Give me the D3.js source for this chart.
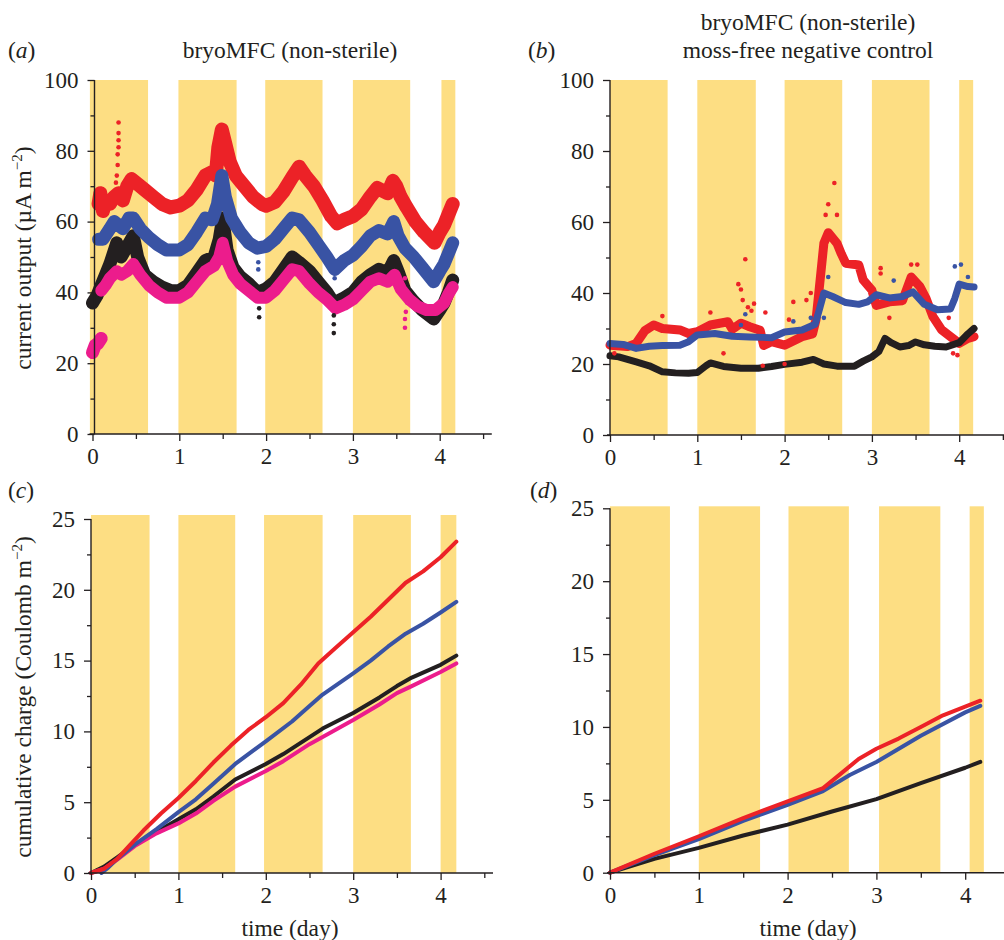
<!DOCTYPE html>
<html><head><meta charset="utf-8">
<script src="https://cdn.jsdelivr.net/npm/d3@7"></script>
<style>
body{margin:0;background:#fff}
text{font-family:"Liberation Serif","Times New Roman",serif;fill:#231f20}
</style>
</head><body>
<svg id="chart" width="1004" height="940"></svg>
<script>
// ---------- DATA ----------
// light periods (days) per panel
const lightA = [[-0.03,0.64],[0.99,1.66],[1.99,2.65],[3.0,3.66],[4.02,4.18]];
const lightB = [[0,0.66],[1,1.67],[2,2.66],[3,3.66],[4,4.16]];
const lightC = [[0,0.67],[1.0,1.65],[1.98,2.65],[3.0,3.66],[4.0,4.18]];
const lightD = [[0,0.675],[1,1.69],[2.01,2.69],[3.03,3.72],[4.05,4.21]];

const currentTicks = [0,20,40,60,80,100];
const chargeTicks = [0,5,10,15,20,25];
const dayTicks = [0,1,2,3,4];

// (a) current output, bryoMFC non-sterile  [day, µA m-2]
const aRed = [[0.07,65],[0.09,68],[0.12,63],[0.15,66],[0.2,65],[0.25,67],[0.3,68],[0.35,66],[0.4,70],[0.45,72],[0.5,71],[0.6,69],[0.7,67],[0.8,65],[0.9,64],[1.0,64.5],[1.1,66],[1.2,69],[1.3,73],[1.38,74],[1.42,73],[1.45,81],[1.49,86],[1.53,82],[1.58,77],[1.65,73],[1.75,70],[1.85,67],[1.95,65],[2.0,64.5],[2.1,65.5],[2.2,68.5],[2.3,72.5],[2.38,75.5],[2.45,73],[2.55,70],[2.65,66],[2.75,61.5],[2.82,59.5],[2.9,60.5],[3.0,61.5],[3.1,63.5],[3.2,67],[3.28,69.5],[3.4,68],[3.46,71.5],[3.5,70],[3.55,67],[3.62,64],[3.72,60],[3.82,57],[3.94,54],[4.0,57],[4.05,59],[4.1,62],[4.15,65]];
const aBlue = [[0.07,55],[0.12,55],[0.2,58],[0.25,60],[0.3,59],[0.35,58],[0.42,61],[0.47,61],[0.55,58],[0.65,55.5],[0.75,53.5],[0.85,52],[1.0,52],[1.1,53.5],[1.2,57],[1.3,61],[1.38,60.5],[1.44,65],[1.49,73],[1.53,67],[1.6,61],[1.7,57],[1.8,54],[1.9,52.5],[2.0,53],[2.1,55],[2.2,58],[2.3,61],[2.38,60.5],[2.5,57],[2.6,53.5],[2.7,50],[2.79,46.5],[2.9,49],[3.0,50.5],[3.1,53],[3.2,56],[3.3,57.5],[3.4,56.5],[3.47,60],[3.52,56],[3.6,52.5],[3.7,50],[3.8,47],[3.93,43],[4.0,46],[4.05,48],[4.1,51],[4.15,54]];
const aBlack = [[0.0,37],[0.05,39],[0.1,42],[0.15,45],[0.2,48],[0.28,54],[0.33,50],[0.4,53],[0.47,56],[0.52,50],[0.6,45],[0.7,43],[0.8,41.5],[0.9,40.5],[1.0,40.5],[1.1,42],[1.2,45.5],[1.3,49],[1.4,50],[1.46,55],[1.5,61],[1.55,52],[1.62,47],[1.7,44.5],[1.8,42.5],[1.9,40],[2.0,41],[2.1,43],[2.2,46.5],[2.3,50],[2.38,48.5],[2.5,46],[2.6,43],[2.7,40],[2.78,37],[2.9,38.5],[3.0,40],[3.1,43],[3.2,45],[3.3,46.5],[3.4,45.5],[3.47,49],[3.52,46],[3.6,40.5],[3.7,37.5],[3.8,35],[3.93,32.5],[4.0,35],[4.05,37],[4.1,40],[4.15,43.5]];
const aPink = [[0.1,40.5],[0.15,42],[0.2,44],[0.28,46],[0.33,45],[0.4,46],[0.47,48],[0.55,45],[0.65,42],[0.75,40],[0.85,38.5],[1.0,38.5],[1.1,40],[1.2,43],[1.3,46],[1.4,47.5],[1.46,50],[1.5,54],[1.55,49],[1.62,45],[1.7,42.5],[1.8,40.5],[1.9,38.5],[2.0,38.5],[2.1,40.5],[2.2,43.5],[2.3,46.5],[2.38,46],[2.5,42.5],[2.6,40],[2.7,38],[2.8,35.5],[2.9,36.5],[3.0,38],[3.1,40.5],[3.2,43],[3.3,44],[3.4,43],[3.48,45],[3.55,41],[3.65,38],[3.75,36],[3.85,35],[3.95,35],[4.05,37],[4.1,39.5],[4.15,41.5]];
const aPinkStart = [[0.0,23],[0.03,25],[0.06,25.5],[0.1,27]];
const aRedDots = [[0.27,71],[0.28,73],[0.29,76],[0.29,79],[0.3,81],[0.3,83],[0.3,85],[0.3,88],[1.44,84],[1.46,86]];
const aBlueDots = [[1.91,46.5],[1.91,48.5],[2.79,44]];
const aBlackDots = [[1.92,33],[1.92,35.5],[2.78,28.5],[2.78,31],[2.78,33.5]];
const aPinkDots = [[3.6,30],[3.6,32.5],[3.61,34.5],[3.63,37],[3.58,42],[3.6,44]];

// (b) current output, moss-free negative control
const bRed = [[0,25.3],[0.2,24.9],[0.3,25.8],[0.4,29.4],[0.5,31],[0.6,30],[0.8,29.6],[0.9,28.6],[1.0,29.1],[1.15,31],[1.35,31.9],[1.4,29.8],[1.5,31.5],[1.6,30.5],[1.72,29.5],[1.76,25.2],[1.85,26.3],[2.0,25.3],[2.2,27.7],[2.32,28.5],[2.36,32.5],[2.4,42],[2.45,54],[2.5,57],[2.6,54],[2.65,51],[2.7,48.4],[2.85,47.9],[2.9,43.7],[3.0,40.8],[3.05,36.5],[3.2,37.5],[3.35,37.8],[3.45,44.5],[3.55,41.8],[3.62,38.5],[3.7,33.3],[3.8,29.6],[3.9,27.7],[4.0,25.8],[4.1,27.2],[4.17,27.7]];
const bBlue = [[0,25.8],[0.15,25.5],[0.3,24.4],[0.45,25],[0.6,25.2],[0.8,25.3],[0.9,26.3],[1.0,28.2],[1.2,28.6],[1.4,27.8],[1.6,27.6],[1.75,27.5],[1.85,27.4],[2.0,29],[2.2,29.6],[2.35,31.2],[2.4,35.5],[2.45,40],[2.55,39],[2.7,37.3],[2.85,36.8],[2.95,37.5],[3.05,39.5],[3.2,38.6],[3.35,39],[3.47,40.3],[3.6,36.8],[3.75,35.3],[3.9,35.5],[3.95,38.5],[4.0,42.5],[4.1,41.8],[4.17,41.7]];
const bBlack = [[0,22.3],[0.1,22],[0.3,20.6],[0.45,19.5],[0.6,17.8],[0.75,17.5],[0.9,17.4],[1.0,17.6],[1.1,19.5],[1.15,20.3],[1.3,19.3],[1.5,18.8],[1.7,18.8],[1.85,19.3],[2.0,19.9],[2.2,20.5],[2.33,21.3],[2.45,20],[2.6,19.4],[2.8,19.4],[2.9,20.8],[3.0,22],[3.08,23.5],[3.15,27.2],[3.22,26],[3.32,24.8],[3.42,25.2],[3.5,26.2],[3.6,25.4],[3.72,25],[3.85,24.8],[4.0,26],[4.1,28.5],[4.17,30]];
const bRedDots = [[0.05,23],[0.6,33.5],[1.15,34.5],[1.3,23],[1.47,42.5],[1.5,41],[1.52,38],[1.55,49.5],[1.58,36],[1.65,37],[1.62,35],[1.78,34.5],[1.75,19.5],[2.0,20],[2.05,32.5],[2.1,37.5],[2.25,38],[2.3,40],[2.47,62],[2.5,65],[2.57,71],[2.6,62],[3.1,47],[3.1,45.5],[3.2,33],[3.45,48],[3.52,48],[3.88,33],[3.93,23],[3.98,22.5]];
const bBlueDots = [[1.55,34],[1.5,31],[2.1,32],[2.3,33],[2.5,44.5],[2.45,33],[3.25,43.5],[3.95,47.5],[4.02,48],[4.1,44.5]];

// (c) cumulative charge, bryoMFC  [day, Coulomb m-2]
const cRed = [[0,0],[0.15,0.3],[0.3,1.0],[0.45,2.0],[0.6,3.0],[0.8,4.2],[1.0,5.3],[1.2,6.5],[1.4,7.8],[1.6,9.0],[1.8,10.1],[2.0,11.0],[2.2,12.0],[2.4,13.3],[2.6,14.8],[2.8,15.9],[3.0,17.0],[3.2,18.1],[3.4,19.3],[3.6,20.5],[3.8,21.3],[4.0,22.3],[4.18,23.4]];
const cBlue = [[0.12,0],[0.2,0.4],[0.3,1.0],[0.5,2.0],[0.75,3.1],[1.0,4.3],[1.2,5.2],[1.4,6.3],[1.65,7.7],[2.0,9.3],[2.3,10.7],[2.5,11.8],[2.65,12.6],[3.0,14.1],[3.2,15.0],[3.4,16.0],[3.6,16.9],[3.8,17.6],[4.0,18.4],[4.18,19.15]];
const cBlack = [[0,0],[0.15,0.45],[0.3,1.1],[0.5,2.0],[0.75,2.9],[1.0,3.8],[1.2,4.5],[1.4,5.4],[1.65,6.6],[2.0,7.7],[2.2,8.4],[2.5,9.6],[2.65,10.2],[3.0,11.3],[3.3,12.4],[3.5,13.2],[3.67,13.8],[4.0,14.7],[4.18,15.35]];
const cPink = [[0,0],[0.15,0.3],[0.3,0.95],[0.5,1.9],[0.75,2.8],[1.0,3.5],[1.2,4.2],[1.4,5.1],[1.65,6.1],[2.0,7.2],[2.2,7.9],[2.5,9.1],[2.65,9.6],[3.0,10.8],[3.3,11.9],[3.5,12.7],[3.67,13.2],[4.0,14.2],[4.18,14.8]];

// (d) cumulative charge, moss-free control
const dRed = [[0,0],[0.5,1.3],[1.0,2.5],[1.5,3.75],[2.0,4.9],[2.4,5.8],[2.6,6.8],[2.8,7.8],[3.0,8.5],[3.25,9.2],[3.5,10.0],[3.75,10.8],[4.0,11.4],[4.17,11.8]];
const dBlue = [[0,0],[0.5,1.2],[1.0,2.3],[1.5,3.55],[2.0,4.65],[2.4,5.6],[2.7,6.7],[3.0,7.6],[3.5,9.4],[4.0,11.0],[4.17,11.45]];
const dBlack = [[0,0],[0.5,0.95],[1.0,1.7],[1.5,2.55],[2.0,3.3],[2.5,4.2],[3.0,5.05],[3.5,6.15],[4.0,7.2],[4.17,7.6]];

// ---------- STYLE ----------
const COL = {red:"#ec2227", blue:"#3953a4", black:"#231f20", pink:"#ec1c8c", light:"#fdde83"};
const svg = d3.select("#chart");

function panel(o){
  const x = d3.scaleLinear().domain([0,4.6]).range([o.x0, o.x0 + 4.6*o.dx]);
  const y = d3.scaleLinear().domain([0,o.ymax]).range([o.y0, o.y1]);
  const g = svg.append("g");
  // light periods
  g.selectAll("rect.l").data(o.light).enter().append("rect")
    .attr("x", d=>x(d[0])).attr("width", d=>x(d[1])-x(d[0]))
    .attr("y", y(o.ymax)-o.bandTop).attr("height", y(0)-y(o.ymax)+o.bandTop)
    .attr("fill", COL.light);
  const line = d3.line().x(d=>x(d[0])).y(d=>y(d[1]));
  o.series.forEach(s=>{
    g.append("path").attr("d", line(s.data)).attr("fill","none")
      .attr("stroke", COL[s.c]).attr("stroke-width", s.w)
      .attr("stroke-linejoin","round").attr("stroke-linecap","round");
  });
  (o.dots||[]).forEach(s=>{
    g.selectAll(null).data(s.data).enter().append("circle")
      .attr("cx", d=>x(d[0])).attr("cy", d=>y(d[1])).attr("r", s.r||2.3)
      .attr("fill", COL[s.c]);
  });
  // axes
  const yMajor = d3.axisLeft(y).tickValues(o.yticks).tickSize(7).tickPadding(9).tickFormat(d3.format("d"));
  const yMinor = d3.axisLeft(y).tickValues(o.yminor).tickSize(4).tickFormat("");
  const xMajor = d3.axisBottom(x).tickValues(dayTicks).tickSize(7).tickPadding(7).tickFormat(d3.format("d"));
  const xMinor = d3.axisBottom(x).tickValues([0.5,1.5,2.5,3.5,4.5]).tickSize(5).tickFormat("");
  const ax = o.yAxisX !== undefined ? o.yAxisX : x(0);
  [yMinor, yMajor].forEach(a=>{
    const ga = g.append("g").attr("transform",`translate(${ax},0)`).call(a);
    ga.select(".domain").remove();
  });
  g.append("line").attr("x1",ax).attr("x2",ax).attr("y1",y(o.ymax)).attr("y2",y(0))
    .attr("stroke","#231f20").attr("stroke-width",1.4);
  [xMinor, xMajor].forEach(a=>{
    const ga = g.append("g").attr("transform",`translate(0,${y(0)})`).call(a);
    ga.select(".domain").remove();
  });
  g.append("line").attr("x1",x(0)-3).attr("x2",x(4.6)).attr("y1",y(0)).attr("y2",y(0))
    .attr("stroke","#231f20").attr("stroke-width",1.4);
  g.selectAll(".tick line").attr("stroke","#231f20").attr("stroke-width",1.3);
  g.selectAll(".tick text").style("font-size","23px").attr("fill","#231f20")
    .style("font-family",'"Liberation Serif","Times New Roman",serif');
  return {x,y};
}

panel({x0:92.5, dx:86.8, y0:434, y1:80, ymax:100, light:lightA, bandTop:0, yAxisX:94.5,
  yticks:currentTicks, yminor:[10,30,50,70,90],
  series:[{data:aPinkStart,c:"pink",w:13},{data:aBlack,c:"black",w:13},{data:aRed,c:"red",w:14},
          {data:aBlue,c:"blue",w:13},{data:aPink,c:"pink",w:12}],
  dots:[{data:aRedDots,c:"red"},{data:aBlueDots,c:"blue"},{data:aBlackDots,c:"black"},{data:aPinkDots,c:"pink"}]});

panel({x0:610, dx:87.3, y0:435, y1:80, ymax:100, light:lightB, bandTop:0,
  yticks:currentTicks, yminor:[10,30,50,70,90],
  series:[{data:bRed,c:"red",w:9},{data:bBlack,c:"black",w:7},{data:bBlue,c:"blue",w:7}],
  dots:[{data:bRedDots,c:"red"},{data:bBlueDots,c:"blue"}]});

panel({x0:91, dx:87.4, y0:873, y1:519, ymax:25, light:lightC, bandTop:4,
  yticks:chargeTicks, yminor:[2.5,7.5,12.5,17.5,22.5],
  series:[{data:cBlack,c:"black",w:4},{data:cPink,c:"pink",w:4},{data:cBlue,c:"blue",w:4},{data:cRed,c:"red",w:4}]});

panel({x0:610, dx:88.8, y0:872.7, y1:508.3, ymax:25, light:lightD, bandTop:2,
  yticks:chargeTicks, yminor:[2.5,7.5,12.5,17.5,22.5],
  series:[{data:dBlack,c:"black",w:4},{data:dBlue,c:"blue",w:4},{data:dRed,c:"red",w:4}]});

// ---------- TEXT ----------
const T = (x,y,txt,anchor="middle")=>svg.append("text").attr("x",x).attr("y",y)
  .attr("text-anchor",anchor).style("font-size","23.5px").text(txt);
function label(x,y,letter){
  const t = svg.append("text").attr("x",x).attr("y",y).style("font-size","23.5px");
  t.append("tspan").text("(");
  t.append("tspan").style("font-style","italic").text(letter);
  t.append("tspan").text(")");
}
label(8,58,"a"); label(528,58,"b"); label(8,498,"c"); label(530,498,"d");
T(290,58,"bryoMFC (non-sterile)");
T(808,30,"bryoMFC (non-sterile)");
T(808,58,"moss-free negative control");
T(290,936,"time (day)");
T(808,936,"time (day)");

function ylab(cx,cy,txt){
  const t = svg.append("text").attr("transform",`translate(${cx},${cy}) rotate(-90)`)
    .attr("text-anchor","middle").style("font-size","23.5px");
  t.append("tspan").text(txt);
  t.append("tspan").attr("dy",-9).style("font-size","15px").text("−2");
  t.append("tspan").attr("dy",9).text(")");
}
ylab(31,258,"current output (µA m");
ylab(31,697,"cumulative charge (Coulomb m");
</script>
</body></html>
